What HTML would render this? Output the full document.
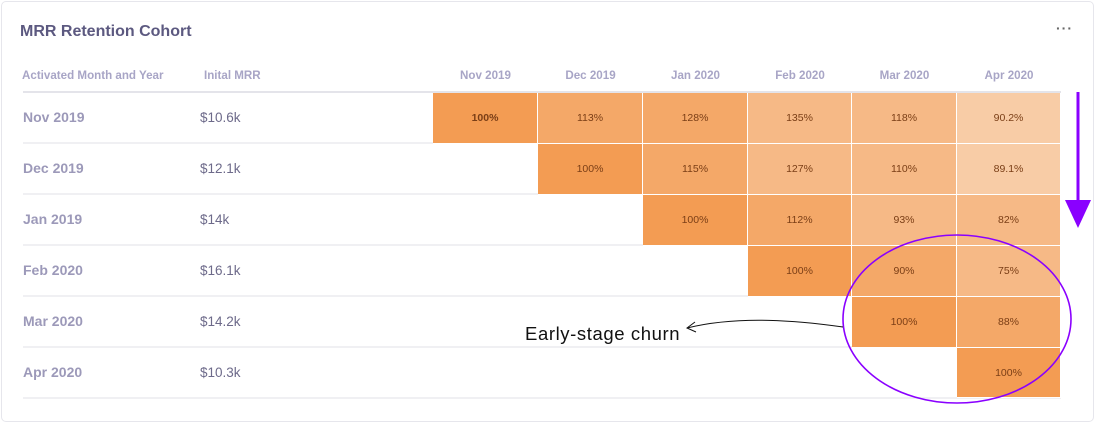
<!DOCTYPE html>
<html><head><style>
body{margin:0;width:1095px;height:423px;background:#fff;font-family:"Liberation Sans",sans-serif;position:relative;overflow:hidden}
.card{position:absolute;left:1px;top:1px;width:1091px;height:419px;border:1px solid #e6e6ec;border-radius:5px}
.t{position:absolute;white-space:nowrap}
.h{color:#a8a5c6;font-size:11.6px;font-weight:bold}
.rl{color:#9c99b9;font-size:14px;font-weight:bold;left:23px}
.mrr{color:#6d6a8a;font-size:13.5px;left:200px}
.c{position:absolute;display:flex;align-items:center;justify-content:center;font-size:10.5px;color:#7a3e16;box-sizing:border-box;border-right:1px solid #fff;border-bottom:1px solid #fff}
.l1{background:#f39c53}.l2{background:#f4a868}.l3{background:#f6b986}.l4{background:#f8cca6}
.sep{position:absolute;left:23px;width:1038px;height:2px;background:#f0f0f3}
</style></head><body>
<div class="card"></div>
<div class="t" style="left:20px;top:23px;font-size:16px;font-weight:bold;color:#5c5980">MRR Retention Cohort</div>
<div class="t" style="left:1056px;top:20px;font-size:14px;color:#666;font-weight:bold;letter-spacing:1px">···</div>
<div class="t h" style="left:22px;top:69px">Activated Month and Year</div>
<div class="t h" style="left:204px;top:69px">Inital MRR</div>
<div class="t h" style="left:433px;width:105px;text-align:center;top:69px">Nov 2019</div>
<div class="t h" style="left:538px;width:105px;text-align:center;top:69px">Dec 2019</div>
<div class="t h" style="left:643px;width:105px;text-align:center;top:69px">Jan 2020</div>
<div class="t h" style="left:748px;width:104px;text-align:center;top:69px">Feb 2020</div>
<div class="t h" style="left:852px;width:105px;text-align:center;top:69px">Mar 2020</div>
<div class="t h" style="left:957px;width:104px;text-align:center;top:69px">Apr 2020</div>
<div class="sep" style="top:91px;background:#e4e4ea"></div>
<div class="sep" style="top:142px"></div><div class="sep" style="top:193px"></div><div class="sep" style="top:244px"></div><div class="sep" style="top:295px"></div><div class="sep" style="top:346px"></div><div class="sep" style="top:397px"></div>
<div class="t rl" style="top:109px">Nov 2019</div><div class="t mrr" style="top:110px">$10.6k</div>
<div class="t rl" style="top:160px">Dec 2019</div><div class="t mrr" style="top:161px">$12.1k</div>
<div class="t rl" style="top:211px">Jan 2019</div><div class="t mrr" style="top:212px">$14k</div>
<div class="t rl" style="top:262px">Feb 2020</div><div class="t mrr" style="top:263px">$16.1k</div>
<div class="t rl" style="top:313px">Mar 2020</div><div class="t mrr" style="top:314px">$14.2k</div>
<div class="t rl" style="top:364px">Apr 2020</div><div class="t mrr" style="top:365px">$10.3k</div>

<div class="c l1" style="left:433px;top:93px;width:105px;height:51px;font-weight:bold">100%</div>
<div class="c l2" style="left:538px;top:93px;width:105px;height:51px">113%</div>
<div class="c l2" style="left:643px;top:93px;width:105px;height:51px">128%</div>
<div class="c l3" style="left:748px;top:93px;width:104px;height:51px">135%</div>
<div class="c l3" style="left:852px;top:93px;width:105px;height:51px">118%</div>
<div class="c l4" style="left:957px;top:93px;width:104px;height:51px">90.2%</div>

<div class="c l1" style="left:538px;top:144px;width:105px;height:51px">100%</div>
<div class="c l2" style="left:643px;top:144px;width:105px;height:51px">115%</div>
<div class="c l3" style="left:748px;top:144px;width:104px;height:51px">127%</div>
<div class="c l3" style="left:852px;top:144px;width:105px;height:51px">110%</div>
<div class="c l4" style="left:957px;top:144px;width:104px;height:51px">89.1%</div>

<div class="c l1" style="left:643px;top:195px;width:105px;height:51px">100%</div>
<div class="c l2" style="left:748px;top:195px;width:104px;height:51px">112%</div>
<div class="c l3" style="left:852px;top:195px;width:105px;height:51px">93%</div>
<div class="c l3" style="left:957px;top:195px;width:104px;height:51px">82%</div>

<div class="c l1" style="left:748px;top:246px;width:104px;height:51px">100%</div>
<div class="c l2" style="left:852px;top:246px;width:105px;height:51px">90%</div>
<div class="c l3" style="left:957px;top:246px;width:104px;height:51px">75%</div>

<div class="c l1" style="left:852px;top:297px;width:105px;height:51px">100%</div>
<div class="c l2" style="left:957px;top:297px;width:104px;height:51px">88%</div>

<div class="c l1" style="left:957px;top:348px;width:104px;height:50px">100%</div>

<div class="t" style="left:525px;top:323px;font-size:18.5px;letter-spacing:0.6px;color:#111">Early-stage churn</div>
<svg style="position:absolute;left:0;top:0" width="1095" height="423">
<line x1="1078" y1="92" x2="1078" y2="202" stroke="#8a00ff" stroke-width="3"/>
<polygon points="1065,200 1091,200 1078,228" fill="#8a00ff"/>
<ellipse cx="957" cy="319" rx="114" ry="84" fill="none" stroke="#8a00ff" stroke-width="1.6"/>
<path d="M843,327 C800,321 740,315 687,328" fill="none" stroke="#111" stroke-width="1"/>
<path d="M695,322 L687,328 L696,332" fill="none" stroke="#111" stroke-width="1"/>
</svg>
</body></html>
